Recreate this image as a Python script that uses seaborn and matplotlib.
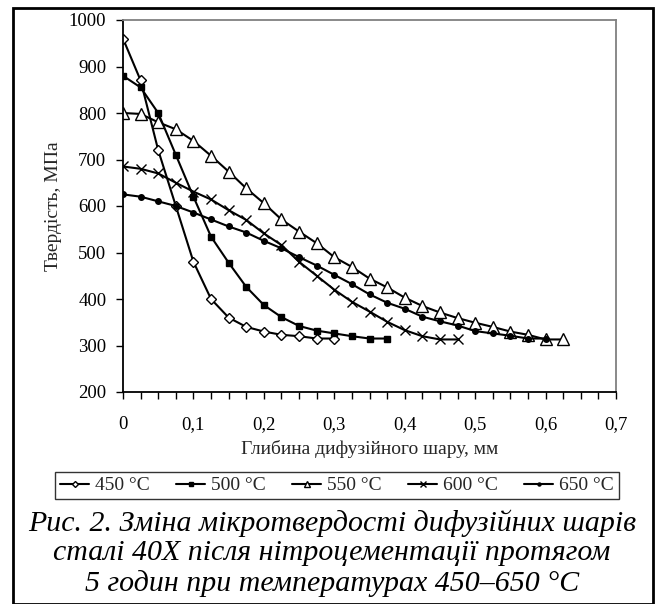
"""
Microhardness of diffusion layers vs depth
"""

import numpy as np
import pandas as pd
import matplotlib
matplotlib.use('Agg')
import matplotlib.pyplot as plt
import seaborn as sns
from matplotlib.patches import Rectangle
from matplotlib.ticker import MultipleLocator, FuncFormatter

# depth, mm (step 0.025)
depth_450 = [0, 0.025, 0.05, 0.075, 0.1, 0.125, 0.15, 0.175, 0.2, 0.225, 0.25, 0.275, 0.3]
hard_450 = [960, 870, 720, 600, 480, 400, 360, 340, 330, 323, 320, 315, 315]

depth_500 = [0, 0.025, 0.05, 0.075, 0.1, 0.125, 0.15, 0.175, 0.2, 0.225, 0.25, 0.275, 0.3,
             0.325, 0.35, 0.375]
hard_500 = [880, 855, 800, 710, 620, 534, 478, 426, 387, 361, 342, 332, 326, 320, 315, 315]

depth_550 = [0, 0.025, 0.05, 0.075, 0.1, 0.125, 0.15, 0.175, 0.2, 0.225, 0.25, 0.275, 0.3,
             0.325, 0.35, 0.375, 0.4, 0.425, 0.45, 0.475, 0.5, 0.525, 0.55, 0.575, 0.6, 0.625]
hard_550 = [800, 798, 780, 765, 740, 708, 674, 638, 606, 571, 545, 520, 490,
            469, 444, 425, 403, 385, 371, 359, 349, 340, 330, 323, 313, 313]

depth_600 = [0, 0.025, 0.05, 0.075, 0.1, 0.125, 0.15, 0.175, 0.2, 0.225, 0.25, 0.275, 0.3,
             0.325, 0.35, 0.375, 0.4, 0.425, 0.45, 0.475]
hard_600 = [685, 680, 670, 650, 631, 614, 591, 570, 541, 516, 480, 450, 420,
            394, 373, 351, 333, 320, 313, 313]

depth_650 = [0, 0.025, 0.05, 0.075, 0.1, 0.125, 0.15, 0.175, 0.2, 0.225, 0.25, 0.275, 0.3,
             0.325, 0.35, 0.375, 0.4, 0.425, 0.45, 0.475, 0.5, 0.525, 0.55, 0.575, 0.6]
hard_650 = [625, 620, 610, 600, 586, 571, 556, 543, 525, 509, 490, 472, 452,
            432, 410, 392, 379, 362, 352, 343, 331, 326, 321, 315, 315]

labels = ['450 °C', '500 °C', '550 °C', '600 °C', '650 °C']
x_ticks = [0, 0.1, 0.2, 0.3, 0.4, 0.5, 0.6, 0.7]

series = [
    (depth_450, hard_450, 'D', 'white', 5.5),
    (depth_500, hard_500, 's', 'black', 4),
    (depth_550, hard_550, '^', 'white', 8),
    (depth_600, hard_600, 'x', 'black', 7),
    (depth_650, hard_650, 'o', 'black', 4),
]

sns.set_style('ticks')
plt.rcParams['font.family'] = ['Liberation Serif', 'DejaVu Serif']

fig = plt.figure(figsize=(6.57, 6.04), dpi=100)
ax = fig.add_axes([123 / 657, 1 - 392 / 604, (616 - 123) / 657, (392 - 20) / 604])

for (xs, ys, mk, fc, ms), lab in zip(series, labels):
    df = pd.DataFrame({'depth': xs, 'hardness': ys})
    sns.lineplot(data=df, x='depth', y='hardness', ax=ax, color='black', linewidth=1.5,
                 marker=mk, markerfacecolor=fc, markeredgecolor='black', markersize=ms,
                 markeredgewidth=1.0, label=lab)

ax.set_xlim(0, 0.7)
ax.set_ylim(200, 1000)
ax.set_xticks(x_ticks)
ax.xaxis.set_minor_locator(MultipleLocator(0.025))
ax.yaxis.set_major_locator(MultipleLocator(100))
ax.xaxis.set_major_formatter(FuncFormatter(lambda v, p: ('%g' % round(v, 2)).replace('.', ',')))
ax.tick_params(axis='both', which='both', direction='out', length=5, width=1,
               labelsize=13.5, colors='black')
ax.tick_params(axis='y', pad=7)
ax.tick_params(axis='x', which='major', pad=12)
ax.tick_params(axis='x', which='minor', length=5)
for s in ['left', 'bottom']:
    ax.spines[s].set_color('black')
    ax.spines[s].set_linewidth(1.3)
for s in ['top', 'right']:
    ax.spines[s].set_color('#808080')
    ax.spines[s].set_linewidth(1.3)

ax.set_xlabel('Глибина дифузійного шару, мм', fontsize=14, labelpad=5)
ax.set_ylabel('Твердість, МПа', fontsize=14, labelpad=5)

ax.legend_.remove()
handles, labs = ax.get_legend_handles_labels()
leg = fig.legend(handles, labs, loc='center', bbox_to_anchor=(337 / 657, 1 - 485.5 / 604),
                 ncol=5, frameon=True, fontsize=14, handlelength=1.5, handletextpad=0.3,
                 columnspacing=1.35, borderpad=0.25, fancybox=False, markerscale=0.55)
leg.get_frame().set_edgecolor('black')
leg.get_frame().set_linewidth(1.0)

caption = ('Рис. 2. Зміна мікротвердості дифузійних шарів\n'
           'сталі 40Х після нітроцементації протягом\n'
           '5 годин при температурах 450–650 °С')
fig.text(332 / 657, 1 - 553 / 604, caption, ha='center', va='center', fontsize=21.5,
         style='italic', linespacing=1.17, color='black')

fig.add_artist(Rectangle((13 / 657, 0.5 / 604), 640 / 657, 596 / 604, transform=fig.transFigure,
                         fill=False, edgecolor='black', linewidth=2))

plt.savefig('out.png', dpi=100)
